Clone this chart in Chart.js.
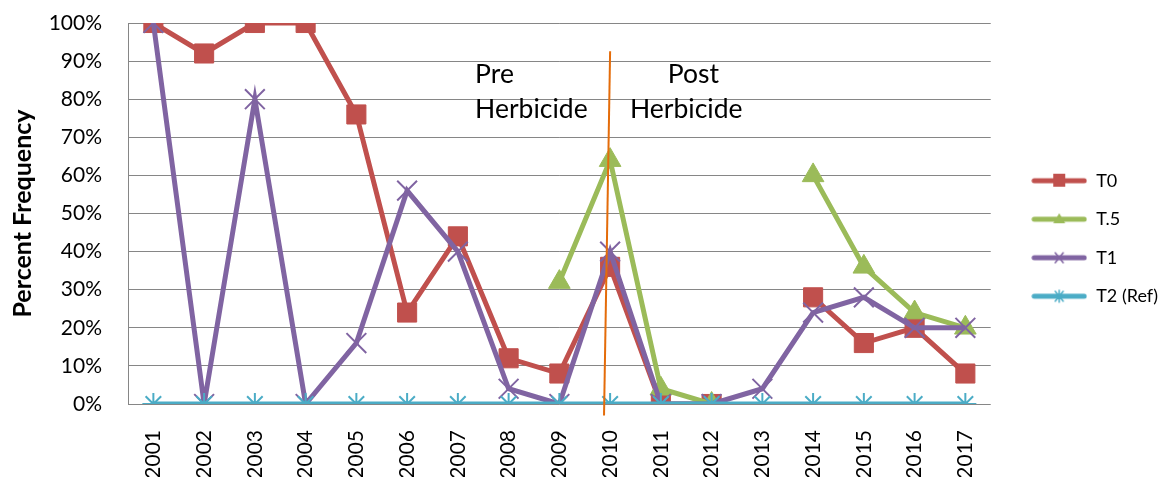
<!DOCTYPE html>
<html>
<head>
<meta charset="utf-8">
<script src="https://cdn.jsdelivr.net/npm/chart.js@4.4.0/dist/chart.umd.min.js"></script>
<style>
  html, body { margin: 0; padding: 0; background: #fff; }
  #wrap { width: 1164px; height: 477px; }
</style>
</head>
<body>
<div id="wrap"><canvas id="grafico"></canvas></div>
<script>
// ─── DADOS ───────────────────────────────────────────────────────────────────
const anos = ["2001", "2002", "2003", "2004", "2005", "2006", "2007", "2008", "2009",
              "2010", "2011", "2012", "2013", "2014", "2015", "2016", "2017"];
const serieT0   = [100, 92, 100, 100, 76, 24, 44, 12, 8, 36, 0, 0, null, 28, 16, 20, 8];
const serieT05  = [null, null, null, null, null, null, null, null, 32, 64, 4, 0, null, 60, 36, 24, 20];
const serieT1   = [100, 0, 80, 0, 16, 56, 40, 4, 0, 40, 0, 0, 4, 24, 28, 20, 20];
const serieT2   = [0, 0, 0, 0, 0, 0, 0, 0, 0, 0, 0, 0, 0, 0, 0, 0, 0];
const ticksY    = [0, 10, 20, 30, 40, 50, 60, 70, 80, 90, 100];

const FONTE = "Lato";

const SERIES = [
  { label: "T0",       data: serieT0,  cor: "#C0504D", ponto: "rect",     raio: 13.5 },
  { label: "T.5",      data: serieT05, cor: "#9BBB59", ponto: "triangle", raio: 12.5 },
  { label: "T1",       data: serieT1,  cor: "#8064A2", ponto: "crossRot", raio: 14 },
  { label: "T2 (Ref)", data: serieT2,  cor: "#4BACC6", ponto: "star",     raio: 11 }
];

// ícone da legenda: linha + marcador
function iconeLegenda(s) {
  const c = document.createElement("canvas");
  c.width = 56; c.height = 16;
  const g = c.getContext("2d");
  g.strokeStyle = s.cor;
  g.lineWidth = 5;
  g.lineCap = "round";
  g.beginPath(); g.moveTo(3, 8); g.lineTo(53, 8); g.stroke();
  g.fillStyle = s.cor;
  g.lineWidth = 1.5;
  if (s.ponto === "rect") g.fillRect(22, 1, 12, 13);
  else if (s.ponto === "triangle") {
    g.beginPath(); g.moveTo(28, 2); g.lineTo(34, 12); g.lineTo(22, 12); g.closePath(); g.fill();
  } else if (s.ponto === "crossRot") {
    g.beginPath(); g.moveTo(24, 3); g.lineTo(32, 13); g.moveTo(32, 3); g.lineTo(24, 13); g.stroke();
  } else {
    g.beginPath(); g.moveTo(24, 3); g.lineTo(32, 13); g.moveTo(32, 3); g.lineTo(24, 13);
    g.moveTo(28, 2); g.lineTo(28, 14); g.stroke();
  }
  return c;
}

const datasets = SERIES.map((s, i) => ({
  label: s.label,
  data: s.data,
  borderColor: s.cor,
  backgroundColor: s.cor,
  borderWidth: 5,
  pointStyle: s.ponto,
  pointRadius: s.raio,
  pointBorderWidth: s.ponto === "rect" || s.ponto === "triangle" ? 1 : 2,
  pointBorderColor: s.cor,
  pointBackgroundColor: s.cor,
  tension: 0,
  spanGaps: false,
  order: SERIES.length - i,
  _icone: iconeLegenda(s)
}));

// ─── ANOTAÇÕES (linha 2010 e textos) ─────────────────────────────────────────
const anotacoes = {
  id: "anotacoes",
  afterLayout(chart) {
    // afasta a legenda da área do gráfico
    chart.legend.left += 20;
    chart.legend.right += 20;
  },
  afterDatasetsDraw(chart) {
    const { ctx, scales: { x, y } } = chart;
    ctx.save();
    ctx.strokeStyle = "#E46C0A";
    ctx.lineWidth = 2;
    ctx.beginPath();
    ctx.moveTo(x.getPixelForValue(9), y.getPixelForValue(92.6));
    ctx.lineTo(x.getPixelForValue(8.88), y.getPixelForValue(-3));
    ctx.stroke();

    ctx.fillStyle = "#000";
    ctx.font = "26.5px " + FONTE;
    ctx.textBaseline = "middle";
    ctx.textAlign = "left";
    ctx.fillText("Pre", x.getPixelForValue(6.34), y.getPixelForValue(86.5));
    ctx.fillText("Herbicide", x.getPixelForValue(6.34), y.getPixelForValue(77.3));
    ctx.textAlign = "center";
    ctx.fillText("Post", x.getPixelForValue(10.64), y.getPixelForValue(86.5));
    ctx.fillText("Herbicide", x.getPixelForValue(10.5), y.getPixelForValue(77.3));
    ctx.restore();
  }
};

new Chart(document.getElementById("grafico"), {
  type: "line",
  data: { labels: anos, datasets },
  plugins: [anotacoes],
  options: {
    responsive: true,
    maintainAspectRatio: false,
    animation: false,
    layout: { padding: { left: 8, right: 16, top: 0, bottom: 0 } },
    plugins: {
      tooltip: { enabled: false },
      legend: {
        position: "right",
        labels: {
          usePointStyle: true,
          pointStyleWidth: 56,
          padding: 20.5,
          color: "#000",
          font: { family: FONTE, size: 18 },
          generateLabels: chart => chart.data.datasets.map((d, i) => ({
            text: d.label,
            pointStyle: d._icone,
            fillStyle: d.borderColor,
            strokeStyle: d.borderColor,
            lineWidth: 0,
            hidden: false,
            datasetIndex: i
          }))
        }
      }
    },
    scales: {
      x: {
        offset: true,
        afterFit: axis => { axis.height = 73; },
        grid: { display: false },
        border: { display: false },
        ticks: {
          minRotation: 90,
          maxRotation: 90,
          autoSkip: false,
          color: "#000",
          padding: 18,
          font: { family: FONTE, size: 21 }
        }
      },
      y: {
        min: 0,
        max: 100,
        afterBuildTicks: axis => { axis.ticks = ticksY.map(v => ({ value: v })); },
        afterFit: axis => { axis.width = 120; axis.paddingTop = 23; },
        grid: { color: "#868686", lineWidth: 1, drawTicks: false },
        border: { display: true, color: "#868686", width: 1 },
        ticks: {
          color: "#000",
          padding: 26,
          font: { family: FONTE, size: 21 },
          callback: v => v + "%"
        },
        title: {
          display: true,
          text: "Percent Frequency",
          color: "#000",
          padding: { top: 0, bottom: 2 },
          font: { family: FONTE, size: 25, weight: "bold" }
        }
      }
    }
  }
});
</script>
</body>
</html>
